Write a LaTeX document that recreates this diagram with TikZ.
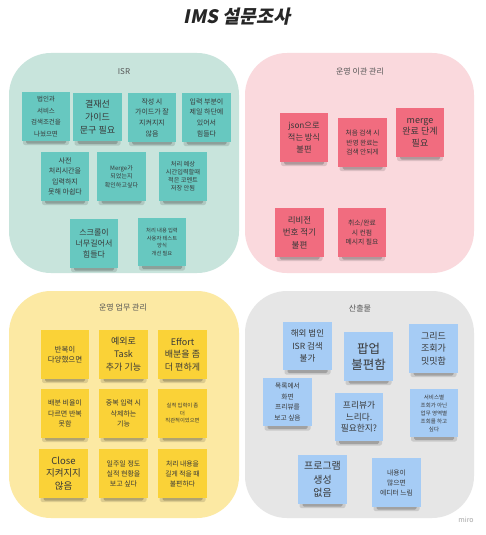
\documentclass[tikz,border=0pt]{standalone}
\usepackage{fontspec}
\setmainfont{Noto Sans CJK KR}
\newfontfamily\titlefont[FakeSlant=0.2,BoldFeatures={FakeSlant=0.2}]{Noto Sans CJK KR}
\definecolor{bgG}{RGB}{200,228,220}
\definecolor{bgP}{RGB}{250,217,221}
\definecolor{bgY}{RGB}{252,233,163}
\definecolor{bgD}{RGB}{230,230,230}
\definecolor{stT}{RGB}{103,200,192}
\definecolor{stP}{RGB}{241,108,127}
\definecolor{stY}{RGB}{250,210,55}
\definecolor{stB}{RGB}{166,204,245}
\definecolor{labc}{RGB}{85,85,85}
\newcommand{\stfs}[2]{\fontsize{#1}{#2}\selectfont}
\tikzset{
  quad/.style={rounded corners=42pt},
  sticky/.style={rectangle, minimum width=48.5pt, minimum height=48.5pt, inner sep=1pt,
    align=center, text=black!78},
  shadowA/.style={black, opacity=0.12, rounded corners=2pt},
  shadowB/.style={black, opacity=0.2, rounded corners=1.5pt},
  qlabel/.style={text=labc, font={\stfs{8}{10}}},
}
% name, x, y, colour, font, text
\newcommand{\stk}[6]{%
  \fill[shadowA] (#2-23,#3+19) rectangle (#2+23,#3+28.5);
  \fill[shadowB] (#2-20,#3+21) rectangle (#2+20,#3+27);
  \node[sticky, fill=#4, font={#5}] (#1) at (#2,#3) {#6};
}
\begin{document}
\begin{tikzpicture}[x=1pt,y=-1pt]
\useasboundingbox[fill=white] (0,0) rectangle (485,535);
% quadrants
\fill[bgG, quad] (9,53) rectangle (239,273);
\fill[bgP, quad] (245,53) rectangle (474,273);
\fill[bgY, quad] (9,291) rectangle (239,518);
\fill[bgD, quad] (245,291) rectangle (474,518);
% title
\node[font={\titlefont\bfseries\stfs{18.5}{20}}, text=black!85] (title) at (237,17) {IMS 설문조사};
% labels
\node[qlabel] (lisr) at (124,72) {ISR};
\node[qlabel] (lmig) at (360,72) {운영 이관 관리};
\node[qlabel] (lops) at (123,308) {운영 업무 관리};
\node[qlabel] (ldel) at (360,308) {산출물};
% ISR
\stk{i1}{46}{116.5}{stT}{\stfs{6.5}{11.7}}{법인과\\서비스\\검색조건을\\나눴으면}
\stk{i2}{97.5}{117}{stT}{\stfs{9}{13.3}}{결재선\\가이드\\문구 필요}
\stk{i3}{152}{117.5}{stT}{\stfs{7}{10.7}}{작성 시\\가이드가 잘\\지켜지지\\않음}
\stk{i4}{206.5}{117.5}{stT}{\stfs{7}{10.7}}{입력 부분이\\제일 하단에\\있어서\\힘들다}
\stk{i5}{65}{176.5}{stT}{\stfs{7}{10.5}}{사전\\처리시간을\\입력하지\\못해 아쉽다}
\stk{i6}{121.5}{176.5}{stT}{\stfs{6}{8.7}}{Merge가\\되었는지\\확인하고싶다}
\stk{i7}{183}{176.5}{stT}{\stfs{6.2}{8}}{처리 예상\\시간입력할때\\적은 코멘트\\저장 안됨}
\stk{i8}{94}{243.5}{stT}{\stfs{8}{11}}{스크롤이\\너무길어서\\힘들다}
\stk{i9}{162}{242}{stT}{\stfs{5.3}{7.5}}{처리 내용 입력\\사용자 테스트\\양식\\개선 필요}
% migration
\stk{m1}{304}{137.5}{stP}{\stfs{8.2}{11.7}}{json으로\\적는 방식\\불편}
\stk{m2}{362.5}{142.5}{stP}{\stfs{6.7}{9.5}}{처음 검색 시\\반영 완료는\\검색 안되게}
\stk{m3}{420}{132.5}{stP}{\stfs{9}{11.7}}{merge\\완료 단계\\필요}
\stk{m4}{299.5}{232.5}{stP}{\stfs{8.5}{12.3}}{리비전\\번호 적기\\불편}
\stk{m5}{362}{232.5}{stP}{\stfs{6.8}{9.7}}{취소/완료\\시 컨펌\\메시지 필요}
% operations
\stk{w1}{65}{354.5}{stY}{\stfs{7.5}{10}}{반복이\\다양했으면}
\stk{w2}{123.5}{354.5}{stY}{\stfs{9}{13}}{예외로\\Task\\추가 기능}
\stk{w3}{182.5}{354.5}{stY}{\stfs{9}{12.5}}{Effort\\배분을 좀\\더 편하게}
\stk{w4}{65}{413.5}{stY}{\stfs{7}{10.5}}{배분 비율이\\다르면 반복\\못함}
\stk{w5}{123.5}{413.5}{stY}{\stfs{7}{10.5}}{중복 입력 시\\삭제하는\\기능}
\stk{w6}{182.5}{413.5}{stY}{\stfs{5.3}{7.5}}{실적 입력이 좀\\더\\직관적이었으면}
\stk{w7}{63.5}{473.5}{stY}{\stfs{9.5}{12.5}}{Close\\지켜지지\\않음}
\stk{w8}{123.5}{473.5}{stY}{\stfs{7}{10}}{일주일 정도\\실적 현황을\\보고 싶다}
\stk{w9}{182.5}{473.5}{stY}{\stfs{6.8}{10}}{처리 내용을\\길게 적을 때\\불편하다}
% deliverables
\stk{d1}{307.5}{346}{stB}{\stfs{8.5}{12.7}}{해외 법인\\ISR 검색\\불가}
\stk{d2}{368.5}{356.5}{stB}{\stfs{12.5}{15.7}}{팝업\\불편함}
\stk{d3}{433.5}{348.5}{stB}{\stfs{9}{12.5}}{그리드\\조회가\\밋밋함}
\stk{d4}{287.5}{402}{stB}{\stfs{6.7}{10.7}}{목록에서\\화면\\프리뷰를\\보고 싶음}
\stk{d5}{359}{417}{stB}{\stfs{8.7}{11.7}}{프리뷰가\\느리다.\\필요한지?}
\stk{d6}{434}{413}{stB}{\stfs{5.5}{8}}{서비스별\\조회가 아닌\\업무 영역별\\조회를 하고\\싶다}
\stk{d7}{322.5}{479.5}{stB}{\stfs{10}{13.5}}{프로그램\\생성\\없음}
\stk{d8}{396.5}{482.5}{stB}{\stfs{6.8}{10}}{내용이\\많으면\\에디터 느림}
% watermark
\node[text=black!35, font={\stfs{7}{8}}] (miro) at (466,520) {miro};
\end{tikzpicture}
\end{document}
